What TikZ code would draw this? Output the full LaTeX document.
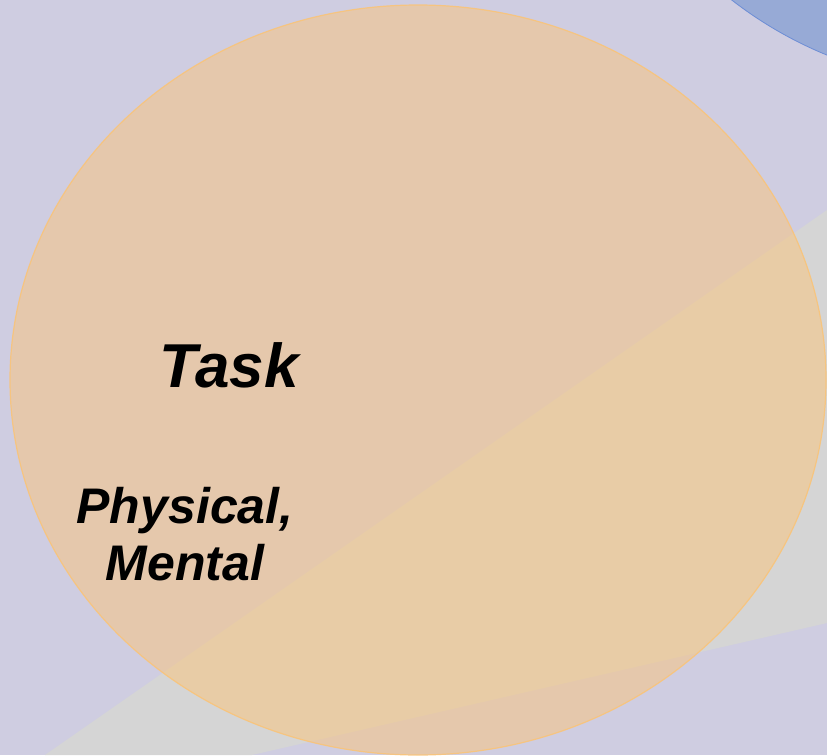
\documentclass[tikz,border=0pt]{standalone}
\usepackage{fontspec}
\setmainfont{Liberation Sans}
\usetikzlibrary{shapes.geometric}
\definecolor{bglav}{HTML}{CFCDE1}
\definecolor{wedgegray}{HTML}{D5D5D5}
\definecolor{taskorange}{HTML}{FBC579}
\definecolor{taskedge}{HTML}{F9C47A}
\definecolor{blueblob}{HTML}{97AAD6}
\definecolor{blueedge}{HTML}{6C8DD5}
\tikzset{
  lbl/.style={anchor=base, text=black, inner sep=0pt, align=center},
}
\begin{document}
\begin{tikzpicture}[x=1pt,y=-1pt]
\useasboundingbox (0,0) rectangle (827,755);
\fill[bglav] (0,0) rectangle (827,755);
% gray wedge
\fill[wedgegray] (45,755) -- (827,210) -- (827,623) -- (252,755) -- cycle;
% blue circle top right
\begin{scope}
\clip (0,0) rectangle (827,755);
\draw[blueedge, fill=blueblob, line width=0.8] (980,-320) circle[radius=405];
\end{scope}
% orange ellipse
\begin{scope}
\clip (0,0) rectangle (827,755);
\node[ellipse, minimum width=816, minimum height=750, inner sep=0pt, fill=taskorange, fill opacity=0.5, draw=taskedge, draw opacity=0.9, line width=1.2] (task) at (418,380) {};
\end{scope}
\node[lbl, font=\fontsize{62}{62}\selectfont\bfseries\itshape] (tasklbl) at (229,387) {Task};
\node[lbl, font=\fontsize{50}{57}\selectfont\bfseries\itshape] (phys) at (185,523) {Physical,};
\node[lbl, font=\fontsize{50}{57}\selectfont\bfseries\itshape] (ment) at (185,580) {Mental};
\end{tikzpicture}
\end{document}
